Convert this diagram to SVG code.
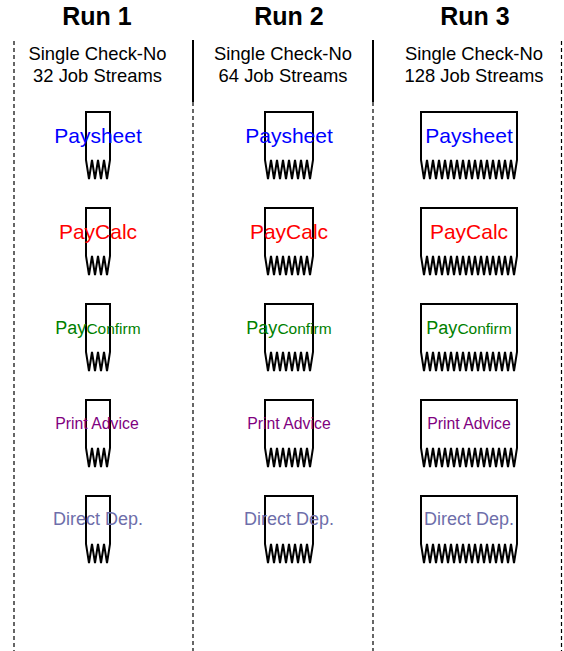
<svg xmlns="http://www.w3.org/2000/svg" xmlns:xlink="http://www.w3.org/1999/xlink" width="564" height="651" viewBox="0 0 564 651">
<style>
text{font-family:"Liberation Sans",Arial,sans-serif;text-anchor:middle}
.hdr{font-size:25px;font-weight:bold;fill:#000}
.sub{font-size:18.4px;fill:#000}
.box{fill:#fff;stroke:#000;stroke-width:2;stroke-linejoin:miter}
.dash{stroke:#000;stroke-width:1.2;stroke-dasharray:4,3;fill:none}
.solid{stroke:#000;stroke-width:2;fill:none}
.ps{font-size:21px;fill:#0000ff}
.pc{font-size:21px;fill:#ff0000}
.pf{fill:#008000}
.pa{font-size:15.8px;fill:#800080}
.dd{font-size:18px;fill:#6e6eaa}
</style>
<defs>
<path id="b1" class="box" d="M0,48 V0 H24 V48 l-3,19 l-3,-19 l-3,19 l-3,-19 l-3,19 l-3,-19 l-3,19 l-3,-19 Z"/>
<path id="b2" class="box" d="M0,48 V0 H48 V48 l-3,19 l-3,-19 l-3,19 l-3,-19 l-3,19 l-3,-19 l-3,19 l-3,-19 l-3,19 l-3,-19 l-3,19 l-3,-19 l-3,19 l-3,-19 l-3,19 l-3,-19 Z"/>
<path id="b3" class="box" d="M0,48 V0 H96 V48 l-3,19 l-3,-19 l-3,19 l-3,-19 l-3,19 l-3,-19 l-3,19 l-3,-19 l-3,19 l-3,-19 l-3,19 l-3,-19 l-3,19 l-3,-19 l-3,19 l-3,-19 l-3,19 l-3,-19 l-3,19 l-3,-19 l-3,19 l-3,-19 l-3,19 l-3,-19 l-3,19 l-3,-19 l-3,19 l-3,-19 l-3,19 l-3,-19 l-3,19 l-3,-19 Z"/>
</defs>
<g id="dividers">
<line class="dash" x1="14" y1="41" x2="14" y2="651"/>
<line class="solid" x1="193" y1="40" x2="193" y2="102"/>
<line class="dash" x1="193" y1="102" x2="193" y2="651"/>
<line class="solid" x1="373" y1="40" x2="373" y2="102"/>
<line class="dash" x1="373" y1="102" x2="373" y2="651"/>
<line class="dash" x1="561.5" y1="41" x2="561.5" y2="651"/>
</g>
<g id="headers">
<text class="hdr" x="97" y="25">Run 1</text>
<text class="hdr" x="289" y="25">Run 2</text>
<text class="hdr" x="475" y="25">Run 3</text>
<text class="sub" x="97.5" y="60">Single Check-No</text>
<text class="sub" x="97.5" y="82">32 Job Streams</text>
<text class="sub" x="283" y="60">Single Check-No</text>
<text class="sub" x="283" y="82">64 Job Streams</text>
<text class="sub" x="474" y="60">Single Check-No</text>
<text class="sub" x="474" y="82">128 Job Streams</text>
</g>
<g id="r1-paysheet"><use xlink:href="#b1" x="86" y="112"/><text class="ps" x="98" y="143">Paysheet</text></g>
<g id="r1-paycalc"><use xlink:href="#b1" x="86" y="208"/><text class="pc" x="98" y="239">PayCalc</text></g>
<g id="r1-payconfirm"><use xlink:href="#b1" x="86" y="304"/><text class="pf" x="98" y="334"><tspan font-size="18">Pay</tspan><tspan font-size="15.5">Confirm</tspan></text></g>
<g id="r1-printadvice"><use xlink:href="#b1" x="86" y="400"/><text class="pa" x="97" y="428.5">Print Advice</text></g>
<g id="r1-directdep"><use xlink:href="#b1" x="86" y="496"/><text class="dd" x="98" y="525">Direct Dep.</text></g>
<g id="r2-paysheet"><use xlink:href="#b2" x="265" y="112"/><text class="ps" x="289" y="143">Paysheet</text></g>
<g id="r2-paycalc"><use xlink:href="#b2" x="265" y="208"/><text class="pc" x="289" y="239">PayCalc</text></g>
<g id="r2-payconfirm"><use xlink:href="#b2" x="265" y="304"/><text class="pf" x="289" y="334"><tspan font-size="18">Pay</tspan><tspan font-size="15.5">Confirm</tspan></text></g>
<g id="r2-printadvice"><use xlink:href="#b2" x="265" y="400"/><text class="pa" x="289" y="428.5">Print Advice</text></g>
<g id="r2-directdep"><use xlink:href="#b2" x="265" y="496"/><text class="dd" x="289" y="525">Direct Dep.</text></g>
<g id="r3-paysheet"><use xlink:href="#b3" x="421" y="112"/><text class="ps" x="469" y="143">Paysheet</text></g>
<g id="r3-paycalc"><use xlink:href="#b3" x="421" y="208"/><text class="pc" x="469" y="239">PayCalc</text></g>
<g id="r3-payconfirm"><use xlink:href="#b3" x="421" y="304"/><text class="pf" x="469" y="334"><tspan font-size="18">Pay</tspan><tspan font-size="15.5">Confirm</tspan></text></g>
<g id="r3-printadvice"><use xlink:href="#b3" x="421" y="400"/><text class="pa" x="469" y="428.5">Print Advice</text></g>
<g id="r3-directdep"><use xlink:href="#b3" x="421" y="496"/><text class="dd" x="469" y="525">Direct Dep.</text></g>
</svg>
